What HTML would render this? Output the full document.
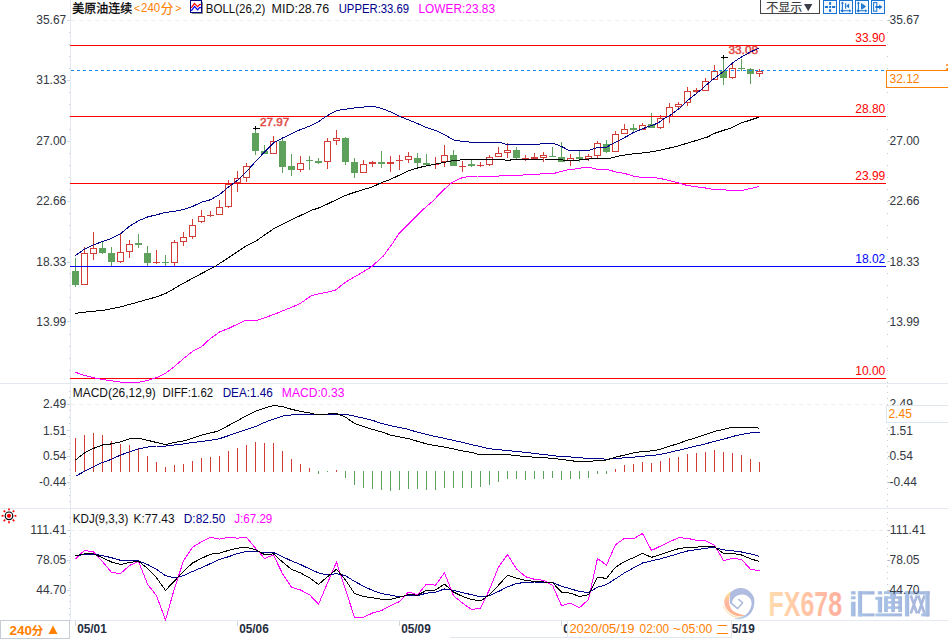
<!DOCTYPE html><html><head><meta charset="utf-8"><title>chart</title>
<style>html,body{margin:0;padding:0;background:#fff;overflow:hidden}svg{display:block}text{font-family:"Liberation Sans",sans-serif}</style></head><body>
<svg width="948" height="640" viewBox="0 0 948 640">
<rect width="948" height="640" fill="#fff"/>
<g shape-rendering="crispEdges" stroke="#e3e8f1" stroke-width="1">
<line x1="70.5" y1="0" x2="70.5" y2="620"/>
<line x1="0" y1="383.5" x2="948" y2="383.5"/>
<line x1="0" y1="508.5" x2="948" y2="508.5"/>
<line x1="0" y1="620.5" x2="948" y2="620.5"/>
</g>
<g shape-rendering="crispEdges" stroke="#eaedf1" stroke-width="1" stroke-dasharray="4 4">
<line x1="71" y1="20.5" x2="887" y2="20.5"/>
<line x1="71" y1="404.5" x2="887" y2="404.5"/>
<line x1="71" y1="530.5" x2="887" y2="530.5"/>
</g>
<g fill="#c6cbd4">
<rect x="69" y="32" width="1" height="1"/>
<rect x="69" y="44" width="1" height="1"/>
<rect x="69" y="56" width="1" height="1"/>
<rect x="69" y="68" width="1" height="1"/>
<rect x="69" y="92" width="1" height="1"/>
<rect x="69" y="104" width="1" height="1"/>
<rect x="69" y="116" width="1" height="1"/>
<rect x="69" y="129" width="1" height="1"/>
<rect x="69" y="153" width="1" height="1"/>
<rect x="69" y="165" width="1" height="1"/>
<rect x="69" y="177" width="1" height="1"/>
<rect x="69" y="189" width="1" height="1"/>
<rect x="69" y="213" width="1" height="1"/>
<rect x="69" y="225" width="1" height="1"/>
<rect x="69" y="237" width="1" height="1"/>
<rect x="69" y="249" width="1" height="1"/>
<rect x="69" y="273" width="1" height="1"/>
<rect x="69" y="285" width="1" height="1"/>
<rect x="69" y="297" width="1" height="1"/>
<rect x="69" y="309" width="1" height="1"/>
<rect x="69" y="334" width="1" height="1"/>
<rect x="69" y="346" width="1" height="1"/>
<rect x="69" y="358" width="1" height="1"/>
<rect x="69" y="370" width="1" height="1"/>
<rect x="69" y="391" width="1" height="1"/>
<rect x="69" y="397" width="1" height="1"/>
<rect x="69" y="404" width="1" height="1"/>
<rect x="69" y="410" width="1" height="1"/>
<rect x="69" y="417" width="1" height="1"/>
<rect x="69" y="423" width="1" height="1"/>
<rect x="69" y="430" width="1" height="1"/>
<rect x="69" y="436" width="1" height="1"/>
<rect x="69" y="443" width="1" height="1"/>
<rect x="69" y="449" width="1" height="1"/>
<rect x="69" y="456" width="1" height="1"/>
<rect x="69" y="462" width="1" height="1"/>
<rect x="69" y="469" width="1" height="1"/>
<rect x="69" y="475" width="1" height="1"/>
<rect x="69" y="482" width="1" height="1"/>
<rect x="69" y="488" width="1" height="1"/>
<rect x="69" y="495" width="1" height="1"/>
<rect x="69" y="501" width="1" height="1"/>
<rect x="69" y="517" width="1" height="1"/>
<rect x="69" y="523" width="1" height="1"/>
<rect x="69" y="530" width="1" height="1"/>
<rect x="69" y="536" width="1" height="1"/>
<rect x="69" y="543" width="1" height="1"/>
<rect x="69" y="549" width="1" height="1"/>
<rect x="69" y="556" width="1" height="1"/>
<rect x="69" y="562" width="1" height="1"/>
<rect x="69" y="569" width="1" height="1"/>
<rect x="69" y="575" width="1" height="1"/>
<rect x="69" y="582" width="1" height="1"/>
<rect x="69" y="588" width="1" height="1"/>
<rect x="69" y="595" width="1" height="1"/>
<rect x="69" y="601" width="1" height="1"/>
<rect x="69" y="608" width="1" height="1"/>
<rect x="69" y="614" width="1" height="1"/>
</g>
<g shape-rendering="crispEdges" stroke="#cdd9e6" stroke-width="1">
<line x1="67" y1="20.5" x2="70" y2="20.5"/>
<line x1="67" y1="80.5" x2="70" y2="80.5"/>
<line x1="67" y1="141.5" x2="70" y2="141.5"/>
<line x1="67" y1="201.5" x2="70" y2="201.5"/>
<line x1="67" y1="262.5" x2="70" y2="262.5"/>
<line x1="67" y1="321.5" x2="70" y2="321.5"/>
<line x1="67" y1="404.5" x2="70" y2="404.5"/>
<line x1="67" y1="430.5" x2="70" y2="430.5"/>
<line x1="67" y1="456.5" x2="70" y2="456.5"/>
<line x1="67" y1="482.5" x2="70" y2="482.5"/>
<line x1="67" y1="530.5" x2="70" y2="530.5"/>
<line x1="67" y1="560.5" x2="70" y2="560.5"/>
<line x1="67" y1="590.5" x2="70" y2="590.5"/>
</g>
<g fill="#c3cad6">
<rect x="887" y="20" width="1" height="1"/>
<rect x="887" y="32" width="1" height="1"/>
<rect x="887" y="44" width="1" height="1"/>
<rect x="887" y="56" width="1" height="1"/>
<rect x="887" y="68" width="1" height="1"/>
<rect x="887" y="80" width="1" height="1"/>
<rect x="887" y="92" width="1" height="1"/>
<rect x="887" y="104" width="1" height="1"/>
<rect x="887" y="116" width="1" height="1"/>
<rect x="887" y="129" width="1" height="1"/>
<rect x="887" y="141" width="1" height="1"/>
<rect x="887" y="153" width="1" height="1"/>
<rect x="887" y="165" width="1" height="1"/>
<rect x="887" y="177" width="1" height="1"/>
<rect x="887" y="189" width="1" height="1"/>
<rect x="887" y="201" width="1" height="1"/>
<rect x="887" y="213" width="1" height="1"/>
<rect x="887" y="225" width="1" height="1"/>
<rect x="887" y="237" width="1" height="1"/>
<rect x="887" y="249" width="1" height="1"/>
<rect x="887" y="261" width="1" height="1"/>
<rect x="887" y="273" width="1" height="1"/>
<rect x="887" y="285" width="1" height="1"/>
<rect x="887" y="297" width="1" height="1"/>
<rect x="887" y="309" width="1" height="1"/>
<rect x="887" y="322" width="1" height="1"/>
<rect x="887" y="334" width="1" height="1"/>
<rect x="887" y="346" width="1" height="1"/>
<rect x="887" y="358" width="1" height="1"/>
<rect x="887" y="370" width="1" height="1"/>
<rect x="887" y="382" width="1" height="1"/>
<rect x="887" y="386" width="1" height="1"/>
<rect x="887" y="392" width="1" height="1"/>
<rect x="887" y="398" width="1" height="1"/>
<rect x="887" y="404" width="1" height="1"/>
<rect x="887" y="410" width="1" height="1"/>
<rect x="887" y="416" width="1" height="1"/>
<rect x="887" y="422" width="1" height="1"/>
<rect x="887" y="428" width="1" height="1"/>
<rect x="887" y="434" width="1" height="1"/>
<rect x="887" y="440" width="1" height="1"/>
<rect x="887" y="446" width="1" height="1"/>
<rect x="887" y="452" width="1" height="1"/>
<rect x="887" y="458" width="1" height="1"/>
<rect x="887" y="464" width="1" height="1"/>
<rect x="887" y="470" width="1" height="1"/>
<rect x="887" y="476" width="1" height="1"/>
<rect x="887" y="482" width="1" height="1"/>
<rect x="887" y="488" width="1" height="1"/>
<rect x="887" y="494" width="1" height="1"/>
<rect x="887" y="500" width="1" height="1"/>
<rect x="887" y="500" width="1" height="1"/>
<rect x="887" y="506" width="1" height="1"/>
<rect x="887" y="512" width="1" height="1"/>
<rect x="887" y="518" width="1" height="1"/>
<rect x="887" y="524" width="1" height="1"/>
<rect x="887" y="530" width="1" height="1"/>
<rect x="887" y="536" width="1" height="1"/>
<rect x="887" y="542" width="1" height="1"/>
<rect x="887" y="548" width="1" height="1"/>
<rect x="887" y="554" width="1" height="1"/>
<rect x="887" y="560" width="1" height="1"/>
<rect x="887" y="566" width="1" height="1"/>
<rect x="887" y="572" width="1" height="1"/>
<rect x="887" y="578" width="1" height="1"/>
<rect x="887" y="584" width="1" height="1"/>
<rect x="887" y="590" width="1" height="1"/>
<rect x="887" y="596" width="1" height="1"/>
<rect x="887" y="602" width="1" height="1"/>
<rect x="887" y="608" width="1" height="1"/>
<rect x="887" y="614" width="1" height="1"/>
</g>
<g shape-rendering="crispEdges">
<line x1="75.5" y1="258" x2="75.5" y2="287" stroke="#5ea15d"/>
<rect x="72" y="271" width="7" height="14" fill="#5ea15d"/>
<line x1="84.5" y1="247" x2="84.5" y2="253" stroke="#d23e37"/>
<rect x="81.5" y="253.5" width="6" height="31" fill="none" stroke="#d23e37"/>
<line x1="93.5" y1="232" x2="93.5" y2="248" stroke="#d23e37"/>
<line x1="93.5" y1="254" x2="93.5" y2="260" stroke="#d23e37"/>
<rect x="90.5" y="248.5" width="6" height="5" fill="none" stroke="#d23e37"/>
<line x1="102.5" y1="242" x2="102.5" y2="254" stroke="#5ea15d"/>
<rect x="99" y="248" width="7" height="5" fill="#5ea15d"/>
<line x1="111.5" y1="247" x2="111.5" y2="266" stroke="#5ea15d"/>
<rect x="108" y="253" width="7" height="9" fill="#5ea15d"/>
<line x1="120.5" y1="234" x2="120.5" y2="252" stroke="#d23e37"/>
<line x1="120.5" y1="262" x2="120.5" y2="263" stroke="#d23e37"/>
<rect x="117.5" y="252.5" width="6" height="9" fill="none" stroke="#d23e37"/>
<line x1="129.5" y1="240" x2="129.5" y2="244" stroke="#d23e37"/>
<line x1="129.5" y1="252" x2="129.5" y2="258" stroke="#d23e37"/>
<rect x="126.5" y="244.5" width="6" height="7" fill="none" stroke="#d23e37"/>
<line x1="138.5" y1="234" x2="138.5" y2="248" stroke="#5ea15d"/>
<rect x="135" y="243" width="7" height="2" fill="#5ea15d"/>
<line x1="147.5" y1="246" x2="147.5" y2="266" stroke="#5ea15d"/>
<rect x="144" y="253" width="7" height="10" fill="#5ea15d"/>
<line x1="156.5" y1="250" x2="156.5" y2="264" stroke="#d23e37"/>
<rect x="153" y="262" width="7" height="1" fill="#d23e37"/>
<line x1="165.5" y1="255" x2="165.5" y2="266" stroke="#5ea15d"/>
<rect x="162" y="262" width="7" height="1" fill="#5ea15d"/>
<line x1="174.5" y1="240" x2="174.5" y2="242" stroke="#d23e37"/>
<line x1="174.5" y1="263" x2="174.5" y2="266" stroke="#d23e37"/>
<rect x="171.5" y="242.5" width="6" height="20" fill="none" stroke="#d23e37"/>
<line x1="183.5" y1="232" x2="183.5" y2="237" stroke="#d23e37"/>
<line x1="183.5" y1="242" x2="183.5" y2="246" stroke="#d23e37"/>
<rect x="180.5" y="237.5" width="6" height="4" fill="none" stroke="#d23e37"/>
<line x1="192.5" y1="219" x2="192.5" y2="225" stroke="#d23e37"/>
<line x1="192.5" y1="237" x2="192.5" y2="239" stroke="#d23e37"/>
<rect x="189.5" y="225.5" width="6" height="11" fill="none" stroke="#d23e37"/>
<line x1="201.5" y1="210" x2="201.5" y2="216" stroke="#d23e37"/>
<line x1="201.5" y1="222" x2="201.5" y2="223" stroke="#d23e37"/>
<rect x="198.5" y="216.5" width="6" height="5" fill="none" stroke="#d23e37"/>
<line x1="210.5" y1="211" x2="210.5" y2="217" stroke="#d23e37"/>
<rect x="207" y="215" width="7" height="1" fill="#d23e37"/>
<line x1="219.5" y1="200" x2="219.5" y2="207" stroke="#d23e37"/>
<rect x="216.5" y="207.5" width="6" height="7" fill="none" stroke="#d23e37"/>
<line x1="228.5" y1="180" x2="228.5" y2="184" stroke="#d23e37"/>
<line x1="228.5" y1="207" x2="228.5" y2="208" stroke="#d23e37"/>
<rect x="225.5" y="184.5" width="6" height="22" fill="none" stroke="#d23e37"/>
<line x1="237.5" y1="171" x2="237.5" y2="178" stroke="#d23e37"/>
<line x1="237.5" y1="183" x2="237.5" y2="192" stroke="#d23e37"/>
<rect x="234.5" y="178.5" width="6" height="4" fill="none" stroke="#d23e37"/>
<line x1="246.5" y1="163" x2="246.5" y2="166" stroke="#d23e37"/>
<line x1="246.5" y1="178" x2="246.5" y2="182" stroke="#d23e37"/>
<rect x="243.5" y="166.5" width="6" height="11" fill="none" stroke="#d23e37"/>
<line x1="255.5" y1="127" x2="255.5" y2="155" stroke="#5ea15d"/>
<rect x="252" y="133" width="7" height="18" fill="#5ea15d"/>
<line x1="264.5" y1="145" x2="264.5" y2="154" stroke="#5ea15d"/>
<rect x="261" y="151" width="7" height="3" fill="#5ea15d"/>
<line x1="273.5" y1="136" x2="273.5" y2="141" stroke="#d23e37"/>
<rect x="270.5" y="141.5" width="6" height="12" fill="none" stroke="#d23e37"/>
<line x1="282.5" y1="137" x2="282.5" y2="173" stroke="#5ea15d"/>
<rect x="279" y="141" width="7" height="26" fill="#5ea15d"/>
<line x1="291.5" y1="154" x2="291.5" y2="176" stroke="#5ea15d"/>
<rect x="288" y="166" width="7" height="4" fill="#5ea15d"/>
<line x1="300.5" y1="156" x2="300.5" y2="163" stroke="#d23e37"/>
<line x1="300.5" y1="170" x2="300.5" y2="172" stroke="#d23e37"/>
<rect x="297.5" y="163.5" width="6" height="6" fill="none" stroke="#d23e37"/>
<line x1="309.5" y1="156" x2="309.5" y2="170" stroke="#5ea15d"/>
<rect x="306" y="160" width="7" height="1" fill="#5ea15d"/>
<line x1="318.5" y1="158" x2="318.5" y2="164" stroke="#5ea15d"/>
<rect x="315" y="161" width="7" height="2" fill="#5ea15d"/>
<line x1="327.5" y1="138" x2="327.5" y2="141" stroke="#d23e37"/>
<line x1="327.5" y1="162" x2="327.5" y2="169" stroke="#d23e37"/>
<rect x="324.5" y="141.5" width="6" height="20" fill="none" stroke="#d23e37"/>
<line x1="336.5" y1="130" x2="336.5" y2="138" stroke="#d23e37"/>
<line x1="336.5" y1="141" x2="336.5" y2="145" stroke="#d23e37"/>
<rect x="333.5" y="138.5" width="6" height="2" fill="none" stroke="#d23e37"/>
<line x1="345.5" y1="137" x2="345.5" y2="165" stroke="#5ea15d"/>
<rect x="342" y="138" width="7" height="24" fill="#5ea15d"/>
<line x1="354.5" y1="158" x2="354.5" y2="178" stroke="#5ea15d"/>
<rect x="351" y="162" width="7" height="11" fill="#5ea15d"/>
<line x1="363.5" y1="160" x2="363.5" y2="164" stroke="#d23e37"/>
<rect x="360.5" y="164.5" width="6" height="8" fill="none" stroke="#d23e37"/>
<line x1="372.5" y1="161" x2="372.5" y2="167" stroke="#d23e37"/>
<rect x="369" y="162" width="7" height="2" fill="#d23e37"/>
<line x1="381.5" y1="151" x2="381.5" y2="168" stroke="#5ea15d"/>
<rect x="378" y="162" width="7" height="2" fill="#5ea15d"/>
<line x1="390.5" y1="156" x2="390.5" y2="172" stroke="#d23e37"/>
<rect x="387" y="162" width="7" height="2" fill="#d23e37"/>
<line x1="399.5" y1="155" x2="399.5" y2="170" stroke="#d23e37"/>
<rect x="396" y="160" width="7" height="1" fill="#d23e37"/>
<line x1="408.5" y1="152" x2="408.5" y2="156" stroke="#d23e37"/>
<line x1="408.5" y1="160" x2="408.5" y2="163" stroke="#d23e37"/>
<rect x="405.5" y="156.5" width="6" height="3" fill="none" stroke="#d23e37"/>
<line x1="417.5" y1="153" x2="417.5" y2="167" stroke="#5ea15d"/>
<rect x="414" y="158" width="7" height="5" fill="#5ea15d"/>
<line x1="426.5" y1="154" x2="426.5" y2="165" stroke="#5ea15d"/>
<rect x="423" y="163" width="7" height="2" fill="#5ea15d"/>
<line x1="435.5" y1="157" x2="435.5" y2="169" stroke="#d23e37"/>
<rect x="432" y="164" width="7" height="1" fill="#d23e37"/>
<line x1="444.5" y1="145" x2="444.5" y2="155" stroke="#d23e37"/>
<line x1="444.5" y1="162" x2="444.5" y2="167" stroke="#d23e37"/>
<rect x="441.5" y="155.5" width="6" height="6" fill="none" stroke="#d23e37"/>
<line x1="453.5" y1="150" x2="453.5" y2="166" stroke="#5ea15d"/>
<rect x="450" y="155" width="7" height="11" fill="#5ea15d"/>
<line x1="462.5" y1="161" x2="462.5" y2="172" stroke="#d23e37"/>
<rect x="459" y="166" width="7" height="1" fill="#d23e37"/>
<line x1="471.5" y1="160" x2="471.5" y2="167" stroke="#5ea15d"/>
<rect x="468" y="164" width="7" height="2" fill="#5ea15d"/>
<line x1="480.5" y1="162" x2="480.5" y2="167" stroke="#d23e37"/>
<rect x="477" y="165" width="7" height="1" fill="#d23e37"/>
<line x1="489.5" y1="155" x2="489.5" y2="157" stroke="#d23e37"/>
<line x1="489.5" y1="165" x2="489.5" y2="166" stroke="#d23e37"/>
<rect x="486.5" y="157.5" width="6" height="7" fill="none" stroke="#d23e37"/>
<line x1="498.5" y1="147" x2="498.5" y2="153" stroke="#d23e37"/>
<rect x="495.5" y="153.5" width="6" height="3" fill="none" stroke="#d23e37"/>
<line x1="507.5" y1="143" x2="507.5" y2="150" stroke="#d23e37"/>
<line x1="507.5" y1="153" x2="507.5" y2="158" stroke="#d23e37"/>
<rect x="504.5" y="150.5" width="6" height="2" fill="none" stroke="#d23e37"/>
<line x1="516.5" y1="147" x2="516.5" y2="159" stroke="#5ea15d"/>
<rect x="513" y="150" width="7" height="8" fill="#5ea15d"/>
<line x1="525.5" y1="155" x2="525.5" y2="161" stroke="#d23e37"/>
<rect x="522" y="158" width="7" height="1" fill="#d23e37"/>
<line x1="534.5" y1="153" x2="534.5" y2="159" stroke="#d23e37"/>
<rect x="531" y="157" width="7" height="2" fill="#d23e37"/>
<line x1="543.5" y1="152" x2="543.5" y2="155" stroke="#d23e37"/>
<line x1="543.5" y1="158" x2="543.5" y2="162" stroke="#d23e37"/>
<rect x="540.5" y="155.5" width="6" height="2" fill="none" stroke="#d23e37"/>
<line x1="552.5" y1="147" x2="552.5" y2="157" stroke="#5ea15d"/>
<rect x="549" y="156" width="7" height="1" fill="#5ea15d"/>
<line x1="561.5" y1="142" x2="561.5" y2="162" stroke="#5ea15d"/>
<rect x="558" y="157" width="7" height="5" fill="#5ea15d"/>
<line x1="570.5" y1="154" x2="570.5" y2="158" stroke="#d23e37"/>
<line x1="570.5" y1="161" x2="570.5" y2="166" stroke="#d23e37"/>
<rect x="567.5" y="158.5" width="6" height="2" fill="none" stroke="#d23e37"/>
<line x1="579.5" y1="151" x2="579.5" y2="162" stroke="#5ea15d"/>
<rect x="576" y="157" width="7" height="2" fill="#5ea15d"/>
<line x1="588.5" y1="154" x2="588.5" y2="156" stroke="#d23e37"/>
<line x1="588.5" y1="159" x2="588.5" y2="161" stroke="#d23e37"/>
<rect x="585.5" y="156.5" width="6" height="2" fill="none" stroke="#d23e37"/>
<line x1="597.5" y1="141" x2="597.5" y2="143" stroke="#d23e37"/>
<line x1="597.5" y1="156" x2="597.5" y2="158" stroke="#d23e37"/>
<rect x="594.5" y="143.5" width="6" height="12" fill="none" stroke="#d23e37"/>
<line x1="606.5" y1="140" x2="606.5" y2="153" stroke="#5ea15d"/>
<rect x="603" y="144" width="7" height="8" fill="#5ea15d"/>
<line x1="615.5" y1="131" x2="615.5" y2="134" stroke="#d23e37"/>
<rect x="612.5" y="134.5" width="6" height="17" fill="none" stroke="#d23e37"/>
<line x1="624.5" y1="124" x2="624.5" y2="129" stroke="#d23e37"/>
<rect x="621.5" y="129.5" width="6" height="4" fill="none" stroke="#d23e37"/>
<line x1="633.5" y1="124" x2="633.5" y2="133" stroke="#5ea15d"/>
<rect x="630" y="128" width="7" height="2" fill="#5ea15d"/>
<line x1="642.5" y1="123" x2="642.5" y2="125" stroke="#d23e37"/>
<rect x="639.5" y="125.5" width="6" height="4" fill="none" stroke="#d23e37"/>
<line x1="651.5" y1="113" x2="651.5" y2="128" stroke="#5ea15d"/>
<rect x="648" y="124" width="7" height="4" fill="#5ea15d"/>
<line x1="660.5" y1="115" x2="660.5" y2="118" stroke="#d23e37"/>
<line x1="660.5" y1="128" x2="660.5" y2="129" stroke="#d23e37"/>
<rect x="657.5" y="118.5" width="6" height="9" fill="none" stroke="#d23e37"/>
<line x1="669.5" y1="103" x2="669.5" y2="107" stroke="#d23e37"/>
<line x1="669.5" y1="117" x2="669.5" y2="123" stroke="#d23e37"/>
<rect x="666.5" y="107.5" width="6" height="9" fill="none" stroke="#d23e37"/>
<line x1="678.5" y1="102" x2="678.5" y2="104" stroke="#d23e37"/>
<line x1="678.5" y1="107" x2="678.5" y2="109" stroke="#d23e37"/>
<rect x="675.5" y="104.5" width="6" height="2" fill="none" stroke="#d23e37"/>
<line x1="687.5" y1="87" x2="687.5" y2="91" stroke="#d23e37"/>
<line x1="687.5" y1="103" x2="687.5" y2="106" stroke="#d23e37"/>
<rect x="684.5" y="91.5" width="6" height="11" fill="none" stroke="#d23e37"/>
<line x1="696.5" y1="88" x2="696.5" y2="93" stroke="#d23e37"/>
<rect x="693" y="90" width="7" height="2" fill="#d23e37"/>
<line x1="705.5" y1="78" x2="705.5" y2="81" stroke="#d23e37"/>
<rect x="702.5" y="81.5" width="6" height="9" fill="none" stroke="#d23e37"/>
<line x1="714.5" y1="65" x2="714.5" y2="71" stroke="#d23e37"/>
<rect x="711.5" y="71.5" width="6" height="8" fill="none" stroke="#d23e37"/>
<line x1="723.5" y1="57" x2="723.5" y2="85" stroke="#5ea15d"/>
<rect x="720" y="71" width="7" height="7" fill="#5ea15d"/>
<line x1="732.5" y1="64" x2="732.5" y2="68" stroke="#d23e37"/>
<line x1="732.5" y1="78" x2="732.5" y2="79" stroke="#d23e37"/>
<rect x="729.5" y="68.5" width="6" height="9" fill="none" stroke="#d23e37"/>
<line x1="741.5" y1="59" x2="741.5" y2="71" stroke="#5ea15d"/>
<rect x="738" y="68" width="7" height="1" fill="#5ea15d"/>
<line x1="750.5" y1="68" x2="750.5" y2="84" stroke="#5ea15d"/>
<rect x="747" y="69" width="7" height="5" fill="#5ea15d"/>
<line x1="759.5" y1="69" x2="759.5" y2="71" stroke="#d23e37"/>
<line x1="759.5" y1="74" x2="759.5" y2="77" stroke="#d23e37"/>
<rect x="756.5" y="71.5" width="6" height="2" fill="none" stroke="#d23e37"/>
</g>
<g shape-rendering="crispEdges" stroke-width="1">
<line x1="70" y1="45.5" x2="886" y2="45.5" stroke="#ff0000"/>
<line x1="70" y1="116.5" x2="886" y2="116.5" stroke="#ff0000"/>
<line x1="70" y1="183.5" x2="886" y2="183.5" stroke="#ff0000"/>
<line x1="70" y1="378.5" x2="886" y2="378.5" stroke="#ff0000"/>
<line x1="70" y1="266.5" x2="886" y2="266.5" stroke="#0000ff"/>
<line x1="71" y1="70.5" x2="887" y2="70.5" stroke="#1088ff" stroke-dasharray="3 3"/>
</g>
<text x="260" y="125.6" fill="#e0463e" font-size="11" text-anchor="start" font-weight="normal" textLength="29.3" lengthAdjust="spacingAndGlyphs" stroke="#e0463e" stroke-width="0.45">27.97</text>
<text x="728.4" y="53.9" fill="#e0463e" font-size="11" text-anchor="start" font-weight="normal" textLength="29.7" lengthAdjust="spacingAndGlyphs" stroke="#e0463e" stroke-width="0.45">33.08</text>
<polyline fill="none" stroke="#ff00ff" stroke-width="1.0" shape-rendering="crispEdges" stroke-linejoin="round" points="75.3,372.3 84.6,375.4 93.5,377.6 102.6,379.6 111.4,380.8 120.3,382.1 129.5,382.6 138.6,382.4 147.5,380.4 156.5,377.6 165.6,373.3 174.5,366.4 183.6,358.5 192.6,351.4 201.5,346.7 210.3,338.6 219.6,332.0 228.8,328.3 245.0,320.6 256.6,320.6 274.0,314.4 285.6,309.7 299.5,303.9 311.2,295.8 320.4,293.5 327.4,292.3 335.5,290.0 346.0,281.9 359.9,273.7 371.5,266.8 383.1,256.3 392.4,243.6 399.3,233.1 413.3,219.2 422.5,209.9 432.6,201.3 441.5,192.0 450.6,183.5 459.6,178.5 468.5,176.3 477.6,176.0 486.6,176.3 495.5,176.3 504.6,175.6 520.0,175.6 525.5,174.4 538.7,174.4 543.8,173.0 555.6,173.0 565.7,170.2 579.4,168.5 584.3,167.3 589.3,167.3 597.4,169.3 606.5,169.3 615.7,171.9 624.8,173.5 633.7,176.1 642.5,177.6 655.2,177.6 662.0,178.9 669.5,180.5 678.5,182.9 687.6,185.6 696.5,186.8 705.5,188.0 712.6,189.3 724.4,189.7 729.5,190.7 741.4,190.7 750.5,188.5 759.0,186.5"/>
<polyline fill="none" stroke="#000" stroke-width="1.0" shape-rendering="crispEdges" stroke-linejoin="round" points="75.3,313.4 84.6,312.1 102.6,310.4 120.3,307.0 138.6,301.9 156.5,296.9 165.6,293.5 174.5,288.4 183.6,283.1 192.6,278.3 201.5,273.5 214.5,266.8 228.8,257.5 246.2,245.9 255.5,241.3 274.0,228.5 290.3,220.4 311.2,210.4 320.4,207.4 336.6,199.6 345.5,195.4 354.6,192.3 360.0,190.6 372.5,186.9 381.4,182.7 390.5,179.3 399.5,175.1 408.6,170.9 417.5,168.0 426.5,165.8 435.4,164.1 444.6,162.4 453.5,160.4 462.4,159.9 471.4,159.1 480.3,159.4 489.6,159.4 498.7,159.4 503.0,159.6 507.7,160.4 512.0,159.8 516.4,159.4 543.8,159.0 556.0,159.2 561.5,159.9 570.0,160.4 579.4,160.0 589.3,159.0 597.4,158.5 609.6,158.4 619.7,155.8 633.7,153.8 646.8,152.6 660.6,150.2 678.5,145.8 696.5,140.4 707.5,137.0 714.6,133.3 732.5,127.4 741.4,123.0 759.0,117.2"/>
<polyline fill="none" stroke="#00008b" stroke-width="1.0" shape-rendering="crispEdges" stroke-linejoin="round" points="75.3,255.5 84.6,249.1 93.5,244.9 102.6,241.5 111.4,238.4 120.3,233.9 129.5,226.3 138.6,220.7 147.5,217.0 156.5,214.8 165.6,212.4 174.5,211.4 183.6,209.4 192.6,206.4 201.5,202.2 210.3,199.8 219.6,194.5 228.6,186.9 237.5,180.2 246.6,171.6 255.6,161.4 264.3,152.3 273.5,143.0 282.6,138.0 291.5,133.8 300.6,129.5 309.6,126.2 318.5,121.6 327.6,115.5 336.6,110.5 345.5,109.3 354.6,107.9 363.6,107.1 368.4,106.2 373.5,106.2 381.4,108.4 390.5,111.8 399.5,116.4 408.6,119.9 417.5,123.6 426.5,127.5 435.4,130.4 444.6,134.6 453.5,140.0 462.4,141.4 471.4,142.2 480.3,142.2 489.6,142.2 498.7,142.2 507.7,144.7 520.0,144.7 538.7,144.5 541.2,143.2 553.0,143.2 561.5,146.5 569.1,150.4 579.4,150.4 589.3,150.4 597.4,147.4 606.5,147.4 610.1,144.9 617.1,141.4 624.1,137.9 632.6,133.0 642.4,128.8 652.3,125.2 657.9,123.1 663.5,118.9 669.2,116.1 674.8,111.9 680.4,107.7 687.4,100.6 694.5,95.0 701.5,89.4 708.5,83.0 714.6,78.1 723.5,71.4 732.5,62.9 741.4,57.0 750.5,51.9 759.0,48.2"/>
<g shape-rendering="crispEdges" stroke="#000">
<line x1="253" y1="128.5" x2="260" y2="128.5"/><line x1="255.5" y1="126" x2="255.5" y2="130"/>
<line x1="721" y1="57.5" x2="728" y2="57.5"/><line x1="723.5" y1="55" x2="723.5" y2="59"/>
</g>
<g shape-rendering="crispEdges">
<line x1="75.5" y1="438" x2="75.5" y2="472" stroke="#d23e37"/>
<line x1="84.5" y1="435" x2="84.5" y2="472" stroke="#d23e37"/>
<line x1="93.5" y1="433" x2="93.5" y2="472" stroke="#d23e37"/>
<line x1="102.5" y1="435" x2="102.5" y2="472" stroke="#d23e37"/>
<line x1="111.5" y1="441" x2="111.5" y2="472" stroke="#d23e37"/>
<line x1="120.5" y1="444" x2="120.5" y2="472" stroke="#d23e37"/>
<line x1="129.5" y1="445" x2="129.5" y2="472" stroke="#d23e37"/>
<line x1="138.5" y1="448" x2="138.5" y2="472" stroke="#d23e37"/>
<line x1="147.5" y1="456" x2="147.5" y2="472" stroke="#d23e37"/>
<line x1="156.5" y1="462" x2="156.5" y2="472" stroke="#d23e37"/>
<line x1="165.5" y1="467" x2="165.5" y2="472" stroke="#d23e37"/>
<line x1="174.5" y1="465" x2="174.5" y2="472" stroke="#d23e37"/>
<line x1="183.5" y1="464" x2="183.5" y2="472" stroke="#d23e37"/>
<line x1="192.5" y1="461" x2="192.5" y2="472" stroke="#d23e37"/>
<line x1="201.5" y1="458" x2="201.5" y2="472" stroke="#d23e37"/>
<line x1="210.5" y1="457" x2="210.5" y2="472" stroke="#d23e37"/>
<line x1="219.5" y1="456" x2="219.5" y2="472" stroke="#d23e37"/>
<line x1="228.5" y1="451" x2="228.5" y2="472" stroke="#d23e37"/>
<line x1="237.5" y1="448" x2="237.5" y2="472" stroke="#d23e37"/>
<line x1="246.5" y1="445" x2="246.5" y2="472" stroke="#d23e37"/>
<line x1="255.5" y1="442" x2="255.5" y2="472" stroke="#d23e37"/>
<line x1="264.5" y1="443" x2="264.5" y2="472" stroke="#d23e37"/>
<line x1="273.5" y1="443" x2="273.5" y2="472" stroke="#d23e37"/>
<line x1="282.5" y1="451" x2="282.5" y2="472" stroke="#d23e37"/>
<line x1="291.5" y1="459" x2="291.5" y2="472" stroke="#d23e37"/>
<line x1="300.5" y1="464" x2="300.5" y2="472" stroke="#d23e37"/>
<line x1="309.5" y1="468" x2="309.5" y2="472" stroke="#d23e37"/>
<line x1="318.5" y1="471" x2="318.5" y2="474" stroke="#5ea15d"/>
<line x1="327.5" y1="471" x2="327.5" y2="472" stroke="#5ea15d"/>
<line x1="336.5" y1="470" x2="336.5" y2="472" stroke="#d23e37"/>
<line x1="345.5" y1="471" x2="345.5" y2="478" stroke="#5ea15d"/>
<line x1="354.5" y1="471" x2="354.5" y2="485" stroke="#5ea15d"/>
<line x1="363.5" y1="471" x2="363.5" y2="488" stroke="#5ea15d"/>
<line x1="372.5" y1="471" x2="372.5" y2="489" stroke="#5ea15d"/>
<line x1="381.5" y1="471" x2="381.5" y2="490" stroke="#5ea15d"/>
<line x1="390.5" y1="471" x2="390.5" y2="491" stroke="#5ea15d"/>
<line x1="399.5" y1="471" x2="399.5" y2="490" stroke="#5ea15d"/>
<line x1="408.5" y1="471" x2="408.5" y2="489" stroke="#5ea15d"/>
<line x1="417.5" y1="471" x2="417.5" y2="489" stroke="#5ea15d"/>
<line x1="426.5" y1="471" x2="426.5" y2="490" stroke="#5ea15d"/>
<line x1="435.5" y1="471" x2="435.5" y2="490" stroke="#5ea15d"/>
<line x1="444.5" y1="471" x2="444.5" y2="488" stroke="#5ea15d"/>
<line x1="453.5" y1="471" x2="453.5" y2="488" stroke="#5ea15d"/>
<line x1="462.5" y1="471" x2="462.5" y2="488" stroke="#5ea15d"/>
<line x1="471.5" y1="471" x2="471.5" y2="488" stroke="#5ea15d"/>
<line x1="480.5" y1="471" x2="480.5" y2="487" stroke="#5ea15d"/>
<line x1="489.5" y1="471" x2="489.5" y2="485" stroke="#5ea15d"/>
<line x1="498.5" y1="471" x2="498.5" y2="482" stroke="#5ea15d"/>
<line x1="507.5" y1="471" x2="507.5" y2="479" stroke="#5ea15d"/>
<line x1="516.5" y1="471" x2="516.5" y2="479" stroke="#5ea15d"/>
<line x1="525.5" y1="471" x2="525.5" y2="480" stroke="#5ea15d"/>
<line x1="534.5" y1="471" x2="534.5" y2="479" stroke="#5ea15d"/>
<line x1="543.5" y1="471" x2="543.5" y2="479" stroke="#5ea15d"/>
<line x1="552.5" y1="471" x2="552.5" y2="478" stroke="#5ea15d"/>
<line x1="561.5" y1="471" x2="561.5" y2="480" stroke="#5ea15d"/>
<line x1="570.5" y1="471" x2="570.5" y2="479" stroke="#5ea15d"/>
<line x1="579.5" y1="471" x2="579.5" y2="479" stroke="#5ea15d"/>
<line x1="588.5" y1="471" x2="588.5" y2="478" stroke="#5ea15d"/>
<line x1="597.5" y1="471" x2="597.5" y2="474" stroke="#5ea15d"/>
<line x1="606.5" y1="471" x2="606.5" y2="474" stroke="#5ea15d"/>
<line x1="615.5" y1="469" x2="615.5" y2="472" stroke="#d23e37"/>
<line x1="624.5" y1="465" x2="624.5" y2="472" stroke="#d23e37"/>
<line x1="633.5" y1="464" x2="633.5" y2="472" stroke="#d23e37"/>
<line x1="642.5" y1="462" x2="642.5" y2="472" stroke="#d23e37"/>
<line x1="651.5" y1="463" x2="651.5" y2="472" stroke="#d23e37"/>
<line x1="660.5" y1="461" x2="660.5" y2="472" stroke="#d23e37"/>
<line x1="669.5" y1="458" x2="669.5" y2="472" stroke="#d23e37"/>
<line x1="678.5" y1="457" x2="678.5" y2="472" stroke="#d23e37"/>
<line x1="687.5" y1="454" x2="687.5" y2="472" stroke="#d23e37"/>
<line x1="696.5" y1="453" x2="696.5" y2="472" stroke="#d23e37"/>
<line x1="705.5" y1="452" x2="705.5" y2="472" stroke="#d23e37"/>
<line x1="714.5" y1="450" x2="714.5" y2="472" stroke="#d23e37"/>
<line x1="723.5" y1="452" x2="723.5" y2="472" stroke="#d23e37"/>
<line x1="732.5" y1="453" x2="732.5" y2="472" stroke="#d23e37"/>
<line x1="741.5" y1="455" x2="741.5" y2="472" stroke="#d23e37"/>
<line x1="750.5" y1="459" x2="750.5" y2="472" stroke="#d23e37"/>
<line x1="759.5" y1="462" x2="759.5" y2="472" stroke="#d23e37"/>
</g>
<polyline fill="none" stroke="#00008b" stroke-width="1.0" shape-rendering="crispEdges" stroke-linejoin="round" points="75.5,476.2 84.4,471.4 93.5,466.7 102.5,462.5 111.4,459.3 120.5,455.1 129.5,451.9 138.6,448.8 147.7,447.1 156.5,446.0 165.6,446.0 174.5,445.0 183.5,443.9 192.6,442.5 201.6,441.4 210.5,440.3 219.5,438.7 228.4,435.7 237.5,432.5 246.5,429.4 255.4,426.6 264.5,422.4 273.5,419.2 282.4,416.1 291.5,415.0 300.5,414.4 345.5,414.4 354.6,416.1 363.4,418.2 372.5,420.3 381.6,423.5 390.5,425.6 408.5,429.4 417.6,432.3 435.5,436.5 453.4,440.3 471.6,444.6 489.5,448.8 507.4,450.5 525.4,452.4 543.5,454.5 561.4,456.6 579.5,457.4 584.8,458.3 601.6,458.7 606.5,459.3 615.4,458.3 624.4,457.9 633.3,457.2 642.4,456.2 651.4,455.5 660.3,454.5 669.4,452.4 678.4,450.3 687.3,448.2 696.4,446.0 705.4,443.9 714.3,441.4 723.4,439.3 732.4,436.5 741.3,434.4 750.4,433.0 759.5,432.3"/>
<polyline fill="none" stroke="#000" stroke-width="1.0" shape-rendering="crispEdges" stroke-linejoin="round" points="75.5,460.0 84.4,453.0 93.5,448.4 102.5,445.0 111.4,443.9 120.5,441.8 129.5,438.9 138.6,438.2 147.7,440.3 156.5,442.5 165.6,444.6 174.5,442.5 183.5,441.0 192.6,438.2 201.6,435.1 217.4,431.3 228.4,425.6 237.5,420.7 246.5,415.7 255.4,411.2 264.5,408.1 273.5,405.5 282.4,406.6 291.5,409.3 300.5,411.4 309.6,412.9 318.5,415.0 327.6,414.0 336.4,413.6 345.5,417.1 354.6,423.5 363.4,426.6 372.5,429.4 381.6,431.9 390.5,435.1 408.5,438.7 426.6,443.9 435.5,445.6 444.6,447.1 462.5,450.9 471.6,452.4 479.2,454.5 507.4,454.5 516.5,455.7 534.4,457.2 552.6,458.3 570.5,460.6 576.3,461.4 591.1,461.4 595.3,460.4 606.5,460.0 615.4,457.2 624.4,455.1 633.3,453.0 642.4,451.3 653.3,450.9 660.3,449.4 669.4,446.3 678.4,443.5 687.3,440.3 696.4,437.6 705.4,434.4 714.3,431.5 723.4,429.4 731.4,427.3 754.6,427.3 759.5,428.3"/>
<polyline fill="none" stroke="#ff00ff" stroke-width="1.0" shape-rendering="crispEdges" stroke-linejoin="round" points="75.5,558.8 84.5,550.4 93.5,551.8 102.5,561.5 111.5,572.5 120.5,573.6 129.5,565.5 138.5,561.5 147.5,584.1 156.5,595.7 165.5,620.0 174.5,588.3 183.5,560.9 192.5,547.2 201.5,541.9 210.5,537.3 219.5,539.2 228.5,537.3 237.5,538.1 246.5,537.3 255.5,548.2 264.5,558.4 273.5,555.2 282.5,573.6 291.5,587.3 300.5,590.0 309.5,594.7 318.5,604.2 327.5,583.1 336.5,562.0 345.5,589.4 354.5,617.4 363.5,617.4 372.5,613.0 381.5,610.5 390.5,605.6 399.5,601.6 408.5,592.1 417.5,594.7 426.5,584.1 435.5,585.2 444.5,572.9 453.5,595.7 462.5,603.1 471.5,609.4 480.5,608.4 489.5,589.4 498.5,567.2 507.5,554.6 516.5,568.9 525.5,576.7 534.5,579.3 543.5,580.3 552.5,585.2 561.5,605.6 570.5,603.1 579.5,607.7 588.5,599.5 597.5,558.4 606.5,565.1 615.5,544.7 624.5,538.3 633.5,538.8 642.5,533.5 651.5,550.4 660.5,546.1 669.5,541.9 678.5,537.7 687.5,538.3 696.5,540.4 705.5,540.9 714.5,545.1 723.5,560.5 732.5,558.4 741.5,559.4 750.5,569.3 759.5,570.8"/>
<polyline fill="none" stroke="#00008b" stroke-width="1.0" shape-rendering="crispEdges" stroke-linejoin="round" points="75.5,555.6 84.5,554.6 93.5,554.2 102.5,555.6 111.5,557.7 120.5,560.3 129.5,560.9 138.5,560.9 147.5,564.5 156.5,569.3 165.5,575.7 174.5,577.8 183.5,575.7 192.5,571.5 201.5,567.7 210.5,563.6 219.5,559.4 228.5,556.7 237.5,553.5 246.5,551.4 255.5,551.4 264.5,552.5 273.5,552.5 282.5,556.7 291.5,560.9 300.5,564.5 309.5,568.9 318.5,572.9 327.5,575.0 336.5,573.6 345.5,575.7 354.5,581.4 363.5,586.2 372.5,590.4 381.5,593.6 390.5,595.1 399.5,596.8 408.5,595.3 417.5,595.7 426.5,593.2 435.5,592.1 444.5,589.0 453.5,590.4 462.5,592.6 471.5,594.7 480.5,596.8 489.5,595.7 498.5,591.5 507.5,586.9 516.5,583.5 525.5,582.4 534.5,582.0 543.5,582.0 552.5,582.6 561.5,586.2 570.5,588.8 579.5,591.5 588.5,592.6 597.5,587.3 606.5,584.5 615.5,578.8 624.5,572.9 633.5,567.9 642.5,563.0 651.5,560.9 660.5,558.8 669.5,556.3 678.5,553.5 687.5,551.0 696.5,549.7 705.5,548.2 714.5,547.6 723.5,549.9 732.5,550.8 741.5,552.0 750.5,553.9 759.5,556.3"/>
<polyline fill="none" stroke="#000" stroke-width="1.0" shape-rendering="crispEdges" stroke-linejoin="round" points="75.5,555.6 84.5,553.9 93.5,553.9 102.5,557.7 111.5,562.0 120.5,564.5 129.5,562.4 138.5,561.3 147.5,568.3 156.5,577.8 165.5,590.4 174.5,580.9 183.5,571.5 192.5,563.0 201.5,558.4 210.5,554.2 219.5,553.1 228.5,550.4 237.5,548.2 246.5,547.2 255.5,549.7 264.5,554.6 273.5,553.9 282.5,562.0 291.5,569.3 300.5,572.9 309.5,577.8 318.5,584.5 327.5,576.7 336.5,569.3 345.5,579.9 354.5,593.6 363.5,596.4 372.5,597.8 381.5,599.3 390.5,599.3 399.5,597.2 408.5,594.7 417.5,595.1 426.5,590.4 435.5,590.0 444.5,584.1 453.5,592.1 462.5,596.4 471.5,599.5 480.5,601.0 489.5,594.7 498.5,585.2 507.5,575.3 516.5,578.2 525.5,580.3 534.5,581.4 543.5,582.0 552.5,582.6 561.5,592.1 570.5,593.2 579.5,596.4 588.5,594.7 597.5,577.2 606.5,578.4 615.5,567.2 624.5,561.5 633.5,557.7 642.5,553.5 651.5,557.3 660.5,554.6 669.5,551.4 678.5,548.7 687.5,547.2 696.5,547.2 705.5,546.1 714.5,546.8 723.5,553.5 732.5,553.5 741.5,555.0 750.5,558.8 759.5,561.5"/>
<text x="66.3" y="24.3" fill="#333842" font-size="12" text-anchor="end" font-weight="normal">35.67</text>
<text x="889.5" y="24.3" fill="#333842" font-size="12" text-anchor="start" font-weight="normal">35.67</text>
<text x="66.3" y="84.3" fill="#333842" font-size="12" text-anchor="end" font-weight="normal">31.33</text>
<text x="889.5" y="84.3" fill="#333842" font-size="12" text-anchor="start" font-weight="normal">31.33</text>
<text x="66.3" y="144.8" fill="#333842" font-size="12" text-anchor="end" font-weight="normal">27.00</text>
<text x="889.5" y="144.8" fill="#333842" font-size="12" text-anchor="start" font-weight="normal">27.00</text>
<text x="66.3" y="204.8" fill="#333842" font-size="12" text-anchor="end" font-weight="normal">22.66</text>
<text x="889.5" y="204.8" fill="#333842" font-size="12" text-anchor="start" font-weight="normal">22.66</text>
<text x="66.3" y="266.1" fill="#333842" font-size="12" text-anchor="end" font-weight="normal">18.33</text>
<text x="889.5" y="266.1" fill="#333842" font-size="12" text-anchor="start" font-weight="normal">18.33</text>
<text x="66.3" y="325.8" fill="#333842" font-size="12" text-anchor="end" font-weight="normal">13.99</text>
<text x="889.5" y="325.8" fill="#333842" font-size="12" text-anchor="start" font-weight="normal">13.99</text>
<text x="66.3" y="408.3" fill="#333842" font-size="12" text-anchor="end" font-weight="normal">2.49</text>
<text x="66.3" y="434.6" fill="#333842" font-size="12" text-anchor="end" font-weight="normal">1.51</text>
<text x="66.3" y="460.3" fill="#333842" font-size="12" text-anchor="end" font-weight="normal">0.54</text>
<text x="66.3" y="486.3" fill="#333842" font-size="12" text-anchor="end" font-weight="normal">-0.44</text>
<text x="889.5" y="434.6" fill="#333842" font-size="12" text-anchor="start" font-weight="normal">1.51</text>
<text x="889.5" y="460.3" fill="#333842" font-size="12" text-anchor="start" font-weight="normal">0.54</text>
<text x="889.5" y="486.3" fill="#333842" font-size="12" text-anchor="start" font-weight="normal">-0.44</text>
<text x="30.3" y="534.3" fill="#333842" font-size="12" text-anchor="start" font-weight="normal" textLength="36" lengthAdjust="spacingAndGlyphs">111.41</text>
<text x="66.3" y="564.0" fill="#333842" font-size="12" text-anchor="end" font-weight="normal">78.05</text>
<text x="66.3" y="594.0999999999999" fill="#333842" font-size="12" text-anchor="end" font-weight="normal">44.70</text>
<g fill="#aeb6c2">
<rect x="888" y="20" width="2" height="1"/>
<rect x="888" y="80" width="2" height="1"/>
<rect x="888" y="140" width="2" height="1"/>
<rect x="888" y="200" width="2" height="1"/>
<rect x="888" y="261" width="2" height="1"/>
<rect x="888" y="321" width="2" height="1"/>
<rect x="888" y="430" width="2" height="1"/>
<rect x="888" y="456" width="2" height="1"/>
<rect x="888" y="482" width="2" height="1"/>
<rect x="888" y="530" width="2" height="1"/>
<rect x="888" y="560" width="2" height="1"/>
<rect x="888" y="590" width="2" height="1"/>
</g>
<text x="885.3" y="42" fill="#ff0000" font-size="12" text-anchor="end" font-weight="normal">33.90</text>
<text x="885.3" y="112.5" fill="#ff0000" font-size="12" text-anchor="end" font-weight="normal">28.80</text>
<text x="885.3" y="179.5" fill="#ff0000" font-size="12" text-anchor="end" font-weight="normal">23.99</text>
<text x="885.3" y="375" fill="#ff0000" font-size="12" text-anchor="end" font-weight="normal">10.00</text>
<text x="885.3" y="262.5" fill="#0000ff" font-size="12" text-anchor="end" font-weight="normal">18.02</text>
<rect x="886.5" y="70.5" width="70" height="17" fill="#fff" stroke="#ff8000" shape-rendering="crispEdges"/>
<text x="889.5" y="83" fill="#ff8000" font-size="12" text-anchor="start" font-weight="normal">32.12</text>
<path d="M946 64.2 h2 v1.6 h-2z M945.5 70 L947 68 L948 68 L948 70Z" fill="#ff8000"/>
<text x="889.5" y="408.3" fill="#333842" font-size="12">2.49</text>
<rect x="886.5" y="405.5" width="70" height="17" fill="#fff" stroke="#dfe6ee" shape-rendering="crispEdges"/>
<text x="888.5" y="418.3" fill="#ff8000" font-size="12" text-anchor="start" font-weight="normal">2.45</text>
<text x="72.2" y="12.86" fill="#000" stroke="#000" stroke-width="0.26" font-size="12" text-anchor="start" font-weight="normal" textLength="60" lengthAdjust="spacingAndGlyphs" style="font-family:'Liberation Sans','Noto Sans CJK SC',sans-serif">美原油连续</text>
<text x="134" y="12" fill="#ff8000" font-size="10.5" text-anchor="start" font-weight="normal">&lt;</text>
<text x="141" y="12.3" fill="#ff8000" font-size="12" text-anchor="start" font-weight="normal" textLength="19.2" lengthAdjust="spacingAndGlyphs">240</text>
<text x="160.8" y="13.39" fill="#ff8000" stroke="#ff8000" stroke-width="0.15" font-size="12.6" text-anchor="start" font-weight="normal" style="font-family:'Liberation Sans','Noto Sans CJK SC',sans-serif">分</text>
<text x="175.3" y="12" fill="#ff8000" font-size="10.5" text-anchor="start" font-weight="normal">&gt;</text>
<g shape-rendering="crispEdges"><rect x="190.5" y="0.5" width="11" height="12" fill="#fff" stroke="#000080"/><line x1="202.5" y1="2" x2="202.5" y2="14" stroke="#8a8a80"/><line x1="192" y1="13.5" x2="203" y2="13.5" stroke="#8a8a80"/></g>
<polyline fill="none" stroke="#ff0000" stroke-width="1.2" points="191.3,7.8 194.4,3.4 197.6,6.6 199.5,4.5 201,4.5"/>
<polyline fill="none" stroke="#0000ff" stroke-width="1.2" points="191.3,10.8 194.6,6.5 197.6,9.8 199.5,7.6 201,7.6"/>
<text x="205.8" y="12.6" fill="#111" font-size="12" text-anchor="start" font-weight="normal" textLength="59.5" lengthAdjust="spacingAndGlyphs">BOLL(26,2)</text>
<text x="271.6" y="12.6" fill="#111" font-size="12" text-anchor="start" font-weight="normal" textLength="57.5" lengthAdjust="spacingAndGlyphs">MID:28.76</text>
<text x="338.7" y="12.6" fill="#00008b" font-size="12" text-anchor="start" font-weight="normal" textLength="70.4" lengthAdjust="spacingAndGlyphs">UPPER:33.69</text>
<text x="418.5" y="12.6" fill="#ff00ff" font-size="12" text-anchor="start" font-weight="normal" textLength="76.5" lengthAdjust="spacingAndGlyphs">LOWER:23.83</text>
<rect x="760.5" y="-0.5" width="59" height="14" fill="#fff" stroke="#444" shape-rendering="crispEdges"/>
<text x="766.2" y="11.76" fill="#3a3a3a" stroke="#3a3a3a" stroke-width="0.14" font-size="12" text-anchor="start" font-weight="normal" textLength="36" lengthAdjust="spacingAndGlyphs" style="font-family:'Liberation Sans','Noto Sans CJK SC',sans-serif">不显示</text>
<path d="M804 4 L812.4 4 L808.2 11.2Z" fill="#3a3f4a"/>
<rect x="823.5" y="0.5" width="13" height="13" fill="#f4f9ff" stroke="#1872cf" stroke-width="1.2" shape-rendering="crispEdges"/>
<rect x="839.5" y="0.5" width="13" height="13" fill="#f4f9ff" stroke="#1872cf" stroke-width="1.2" shape-rendering="crispEdges"/>
<rect x="855.5" y="0.5" width="13" height="13" fill="#f4f9ff" stroke="#1872cf" stroke-width="1.2" shape-rendering="crispEdges"/>
<rect x="871.5" y="0.5" width="13" height="13" fill="#f4f9ff" stroke="#1872cf" stroke-width="1.2" shape-rendering="crispEdges"/>
<g fill="#1872cf"><rect x="829.1" y="6" width="2" height="2"/><rect x="829.1" y="2.1" width="2" height="2.7"/><rect x="829.1" y="9.2" width="2" height="2.7"/><rect x="824.9" y="6" width="3.1" height="2"/><rect x="832.1" y="6" width="3.1" height="2"/></g>
<g stroke="#1872cf" fill="#1872cf"><path d="M842.4 2.5 V11.5 M841.5 10.8 H850.5" fill="none" stroke-width="1.1"/><path d="M842.4 1.6 l-1.5 1.9 h3z M842.4 12.4 l-1.5 -1.6 h3z M851.2 10.8 l-2 -1.6 v3.2z M840.4 10.8 l1.8 -1.5 v3z" stroke="none"/></g>
<g fill="#1872cf"><rect x="845.1" y="3.2" width="1.1" height="5.4"/><path d="M846.3 5.9 L849.1 3.5 V8.3Z"/></g>
<g stroke="#1872cf" fill="#1872cf"><path d="M858.4 2.5 V11.5 M857.5 10.8 H866.5" fill="none" stroke-width="1.1"/><path d="M858.4 1.6 l-1.5 1.9 h3z M858.4 12.4 l-1.5 -1.6 h3z M867.2 10.8 l-2 -1.6 v3.2z M856.4 10.8 l1.8 -1.5 v3z" stroke="none"/></g>
<g fill="#1872cf"><rect x="861" y="3.4" width="1.2" height="6"/><path d="M862.2 3.4 L866 6.4 L862.2 9.4Z"/></g>
<g stroke="#1872cf" fill="none"><rect x="873.6" y="2.6" width="3.2" height="8.6" stroke-width="1"/><path d="M875.4 7 H880" stroke-width="2"/><path d="M879.2 4.6 L882.4 7 L879.2 9.4Z" fill="#1872cf" stroke="none"/></g>
<text x="72.8" y="397.2" fill="#111" font-size="12" text-anchor="start" font-weight="normal" textLength="83" lengthAdjust="spacingAndGlyphs">MACD(26,12,9)</text>
<text x="162.5" y="397.2" fill="#111" font-size="12" text-anchor="start" font-weight="normal" textLength="50.7" lengthAdjust="spacingAndGlyphs">DIFF:1.62</text>
<text x="222.7" y="397.2" fill="#00008b" font-size="12" text-anchor="start" font-weight="normal" textLength="50" lengthAdjust="spacingAndGlyphs">DEA:1.46</text>
<text x="281.8" y="397.2" fill="#ff00ff" font-size="12" text-anchor="start" font-weight="normal" textLength="62.6" lengthAdjust="spacingAndGlyphs">MACD:0.33</text>
<text x="72.8" y="523" fill="#111" font-size="12" text-anchor="start" font-weight="normal" textLength="55.5" lengthAdjust="spacingAndGlyphs">KDJ(9,3,3)</text>
<text x="133.5" y="523" fill="#111" font-size="12" text-anchor="start" font-weight="normal" textLength="41" lengthAdjust="spacingAndGlyphs">K:77.43</text>
<text x="183.8" y="523" fill="#00008b" font-size="12" text-anchor="start" font-weight="normal" textLength="41.5" lengthAdjust="spacingAndGlyphs">D:82.50</text>
<text x="234.3" y="523" fill="#ff00ff" font-size="12" text-anchor="start" font-weight="normal" textLength="38" lengthAdjust="spacingAndGlyphs">J:67.29</text>
<circle cx="9" cy="515.8" r="3.8" fill="#fff" stroke="#000" stroke-width="1.2"/><circle cx="9" cy="515.8" r="2.1" fill="#ff0000"/>
<line x1="14.50" y1="515.80" x2="16.40" y2="515.80" stroke="#ff0000" stroke-width="1.7"/>
<line x1="12.89" y1="519.69" x2="14.23" y2="521.03" stroke="#ff0000" stroke-width="1.7"/>
<line x1="9.00" y1="521.30" x2="9.00" y2="523.20" stroke="#ff0000" stroke-width="1.7"/>
<line x1="5.11" y1="519.69" x2="3.77" y2="521.03" stroke="#ff0000" stroke-width="1.7"/>
<line x1="3.50" y1="515.80" x2="1.60" y2="515.80" stroke="#ff0000" stroke-width="1.7"/>
<line x1="5.11" y1="511.91" x2="3.77" y2="510.57" stroke="#ff0000" stroke-width="1.7"/>
<line x1="9.00" y1="510.30" x2="9.00" y2="508.40" stroke="#ff0000" stroke-width="1.7"/>
<line x1="12.89" y1="511.91" x2="14.23" y2="510.57" stroke="#ff0000" stroke-width="1.7"/>
<g shape-rendering="crispEdges" stroke="#cfd6e0">
<line x1="75.5" y1="621" x2="75.5" y2="626"/>
<line x1="237.5" y1="621" x2="237.5" y2="626"/>
<line x1="399.5" y1="621" x2="399.5" y2="626"/>
<line x1="561.5" y1="621" x2="561.5" y2="626"/>
</g>
<text x="77.2" y="633.4" fill="#252c3c" font-size="12" text-anchor="start" font-weight="bold" textLength="29.5" lengthAdjust="spacingAndGlyphs">05/01</text>
<text x="239.2" y="633.4" fill="#252c3c" font-size="12" text-anchor="start" font-weight="bold" textLength="29.5" lengthAdjust="spacingAndGlyphs">05/06</text>
<text x="401.2" y="633.4" fill="#252c3c" font-size="12" text-anchor="start" font-weight="bold" textLength="29.5" lengthAdjust="spacingAndGlyphs">05/09</text>
<text x="563.2" y="633.4" fill="#252c3c" font-size="12" text-anchor="start" font-weight="bold" textLength="29.5" lengthAdjust="spacingAndGlyphs">05/14</text>
<text x="725.2" y="633.4" fill="#252c3c" font-size="12" text-anchor="start" font-weight="bold" textLength="29.5" lengthAdjust="spacingAndGlyphs">05/19</text>
<rect x="567.5" y="620.5" width="164" height="17" fill="#fff" stroke="#dfe6ee" shape-rendering="crispEdges"/>
<line x1="450" y1="637.5" x2="731" y2="637.5" stroke="#dfe6ee" shape-rendering="crispEdges"/>
<text x="569.4" y="633.4" fill="#ff8000" font-size="12" text-anchor="start" font-weight="normal" textLength="65" lengthAdjust="spacingAndGlyphs">2020/05/19</text>
<text x="639.6" y="633.4" fill="#ff8000" font-size="12" text-anchor="start" font-weight="normal" textLength="29.6" lengthAdjust="spacingAndGlyphs">02:00</text>
<text x="672.6" y="632.6" fill="#ff8000" font-size="13" text-anchor="start" font-weight="normal" textLength="8.4" lengthAdjust="spacingAndGlyphs">~</text>
<text x="681.8" y="633.4" fill="#ff8000" font-size="12" text-anchor="start" font-weight="normal" textLength="30.6" lengthAdjust="spacingAndGlyphs">05:00</text>
<text x="716.3" y="634.29" fill="#ff8000" font-size="12.6" text-anchor="start" font-weight="normal" style="font-family:'Liberation Sans','Noto Sans CJK SC',sans-serif">二</text>
<rect x="0.5" y="620.5" width="69" height="18" fill="#fff" stroke="#c6cdd6" shape-rendering="crispEdges"/>
<text x="9.5" y="635" fill="#ff8000" font-size="13" text-anchor="start" font-weight="bold" textLength="22.5" lengthAdjust="spacingAndGlyphs">240</text>
<text x="31.6" y="634.98" fill="#ff8000" font-size="11.8" text-anchor="start" font-weight="bold" style="font-family:'Liberation Sans','Noto Sans CJK SC',sans-serif">分</text>
<path d="M48.5 634 L57.5 634 L53 625.5Z" fill="#ff8000"/>
<defs><linearGradient id="gfx" x1="0" x2="1" y1="0" y2="0"><stop offset="0" stop-color="#ffdcae"/><stop offset="1" stop-color="#ffae9c"/></linearGradient><linearGradient id="gcn" x1="0" x2="1" y1="0" y2="0"><stop offset="0" stop-color="#a9c6e8"/><stop offset="1" stop-color="#a3b4dc"/></linearGradient></defs>
<text x="768.6" y="616.4" font-size="35.4" font-weight="bold" fill="url(#gfx)" textLength="73.4" lengthAdjust="spacingAndGlyphs">FX678</text>
<g fill="url(#gcn)">
<rect x="850.9" y="591.2" width="4.6" height="3.3"/>
<rect x="850.9" y="596.3" width="4.6" height="3"/>
<rect x="850.9" y="601.7" width="4.6" height="14.7"/>
<rect x="857.9" y="591.2" width="16.6" height="3.3"/>
<rect x="857.9" y="591.2" width="4.2" height="25.2"/>
<rect x="857.9" y="613.4" width="16.6" height="3"/>
<rect x="877.8" y="591.2" width="4.3" height="3.3"/>
<rect x="875.4" y="596.9" width="6.7" height="2.9"/>
<rect x="877.8" y="596.9" width="4.3" height="15.7"/>
<rect x="875.4" y="613.4" width="26.6" height="3"/>
<rect x="884" y="591.2" width="18" height="2.9"/>
<rect x="890" y="594" width="6" height="2.6"/>
<rect x="884" y="596.4" width="3.8" height="15.7"/>
<rect x="898.2" y="596.4" width="3.8" height="15.7"/>
<rect x="891.1" y="596.4" width="3.8" height="15.7"/>
<rect x="884" y="596.4" width="18" height="2.4"/>
<rect x="884" y="601.2" width="18" height="2.4"/>
<rect x="884" y="606.4" width="18" height="2.4"/>
<rect x="904.9" y="591.2" width="4.3" height="25.2"/>
<rect x="904.9" y="591.2" width="24.7" height="3.3"/>
<rect x="925.3" y="591.2" width="4.3" height="25.2"/>
<rect x="921.2" y="613.4" width="8" height="3"/>
</g>
<g stroke="#a9b9de" stroke-width="2.6" fill="none"><path d="M910.8 595.5 L917 613.5 M917 595.5 L910.8 613.5 M918.3 595.5 L924.5 613.5 M924.5 595.5 L918.3 613.5"/></g>
<defs><linearGradient id="gor" x1="0" x2="0" y1="0" y2="1"><stop offset="0" stop-color="#ffe08c"/><stop offset="0.45" stop-color="#ffb5a2"/><stop offset="1" stop-color="#ffb48c"/></linearGradient><linearGradient id="gbl" x1="0" x2="0" y1="0" y2="1"><stop offset="0" stop-color="#b2bee0"/><stop offset="0.8" stop-color="#aab8de"/><stop offset="1" stop-color="#b4d8f0"/></linearGradient></defs>
<path d="M730.8 591.8 C730.2 591.6 727.1 594.4 726.0 596.0 C724.9 597.6 724.4 599.7 724.3 601.5 C724.2 603.3 724.7 605.3 725.5 607.0 C726.3 608.7 727.6 610.5 729.0 611.8 C730.4 613.1 732.2 614.2 734.0 615.0 C735.8 615.8 738.2 616.2 740.0 616.3 C741.8 616.4 745.2 616.0 745.0 615.6 C744.8 615.2 740.8 614.5 739.0 613.8 C737.2 613.1 735.4 612.5 734.0 611.5 C732.6 610.5 731.3 609.1 730.5 607.5 C729.7 605.9 729.2 603.8 729.0 602.0 C728.8 600.2 729.0 598.7 729.3 597.0 C729.6 595.3 731.3 592.0 730.8 591.8Z" fill="url(#gor)"/>
<path d="M723.2 606.0 C723.8 607.0 725.5 610.4 727.0 612.0 C728.5 613.6 730.6 614.9 732.4 615.8 C734.2 616.7 736.3 617.1 738.0 617.3 C739.7 617.5 741.8 617.0 742.5 617.0" fill="none" stroke="#ffdba0" stroke-width="1"/>
<path d="M730.8 592.2 C731.8 590.9 733.7 589.6 735.5 588.9 C737.3 588.2 739.4 587.7 741.6 588.0 C743.8 588.3 746.6 589.2 748.5 590.5 C750.4 591.8 752.2 594.1 753.2 596.0 C754.2 597.9 754.4 599.6 754.4 601.7 C754.4 603.8 753.9 606.5 753.2 608.5 C752.5 610.5 751.3 612.5 750.0 614.0 C748.7 615.5 747.2 616.7 745.5 617.6 C743.8 618.5 741.8 619.1 740.0 619.3 C738.2 619.5 734.5 619.1 734.5 618.8 C734.5 618.5 738.2 618.2 740.0 617.5 C741.8 616.8 743.9 616.0 745.5 614.8 C747.1 613.6 748.5 612.4 749.5 610.5 C750.5 608.6 751.5 605.7 751.6 603.7 C751.7 601.7 750.9 599.9 750.0 598.5 C749.1 597.1 747.4 595.9 746.0 595.2 C744.6 594.5 743.2 594.4 741.6 594.5 C740.0 594.6 737.9 595.2 736.5 596.0 C735.1 596.8 733.8 598.3 733.0 599.5 C732.2 600.7 732.3 602.9 731.8 603.3 C731.3 603.7 730.2 603.0 729.9 602.0 C729.6 601.0 729.6 598.6 729.8 597.0 C729.9 595.4 729.8 593.6 730.8 592.2Z" fill="url(#gbl)"/>
<polyline points="730.6,602.6 737.7,608.6 742.6,602.7 738.6,599.4" fill="none" stroke="#a9b6da" stroke-width="1.4" stroke-linejoin="round" stroke-linecap="round"/>
<text x="889.5" y="594.1" fill="#333842" font-size="12" text-anchor="start" font-weight="normal">44.70</text>
<text x="889.8" y="534.3" fill="#333842" font-size="12" text-anchor="start" font-weight="normal" textLength="36" lengthAdjust="spacingAndGlyphs">111.41</text>
<text x="889.5" y="564" fill="#333842" font-size="12" text-anchor="start" font-weight="normal">78.05</text>
</svg></body></html>
